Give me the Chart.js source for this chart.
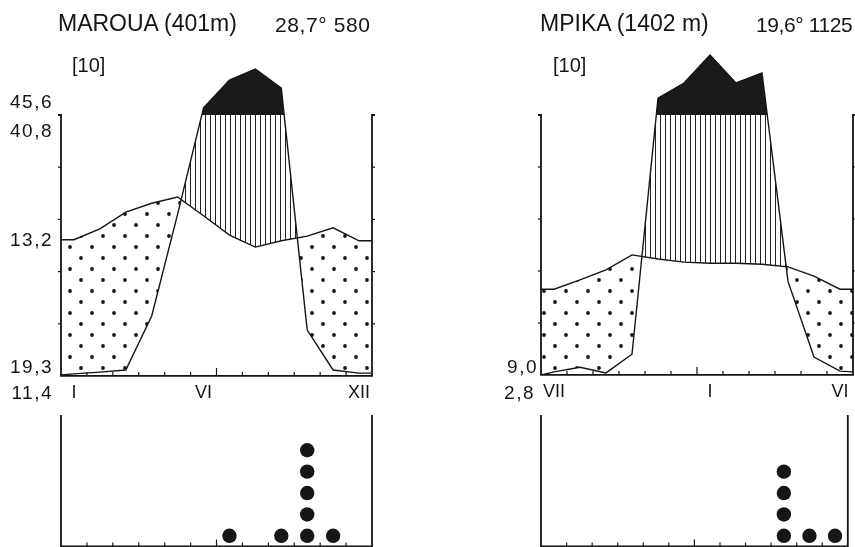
<!DOCTYPE html>
<html>
<head>
<meta charset="utf-8">
<title>Klimaatdiagrammen Maroua / Mpika</title>
<script src="https://cdn.jsdelivr.net/npm/chart.js@4.4.1/dist/chart.umd.min.js"></script>
<style>
    html, body { margin: 0; padding: 0; background: #fff; }
    body { position: relative; width: 855px; height: 547px; overflow: hidden; font-family: 'Liberation Sans', Arial, sans-serif; color: #151515; }
    canvas { position: absolute; }
    .lbl { position: absolute; line-height: 1; white-space: nowrap; }
    .station { font-size: 23px; top: 12px; }
    .meta { font-size: 21px; top: 14px; }
    .years { font-size: 20px; top: 55px; }
    .val { font-size: 19px; letter-spacing: 1.5px; text-align: right; }
</style>
</head>
<body>
<canvas id="marouaDotChart" width="430" height="160" style="left:0;top:400px"></canvas>
<canvas id="mpikaDotChart" width="425" height="160" style="left:430px;top:400px"></canvas>
<canvas id="marouaChart" width="430" height="412" style="left:0;top:0"></canvas>
<canvas id="mpikaChart" width="425" height="412" style="left:430px;top:0"></canvas>

<div class="lbl station" style="left:58px">MAROUA (401m)</div>
<div class="lbl meta" style="left:275px;letter-spacing:0.6px">28,7° 580</div>
<div class="lbl years" style="left:72px">[10]</div>
<div class="lbl val" style="right:802px;top:92px">45,6</div>
<div class="lbl val" style="right:802px;top:121px">40,8</div>
<div class="lbl val" style="right:802px;top:230px">13,2</div>
<div class="lbl val" style="right:802px;top:357px">19,3</div>
<div class="lbl val" style="right:802px;top:383px">11,4</div>

<div class="lbl station" style="left:540px">MPIKA (1402 m)</div>
<div class="lbl meta" style="left:756px;letter-spacing:-0.4px">19,6° 1125</div>
<div class="lbl years" style="left:553px">[10]</div>
<div class="lbl val" style="right:317px;top:357px">9,0</div>
<div class="lbl val" style="right:320px;top:383px">2,8</div>

<script>
// Month positions: left edge, the middle of every month, right edge
const monthPos = [0, 0.5, 1.5, 2.5, 3.5, 4.5, 5.5, 6.5, 7.5, 8.5, 9.5, 10.5, 11.5, 12];

// Maroua (Jan..Dec), first and last value = where the curve meets the frame
const marouaTemp = [26.1, 26.1, 28.2, 31.4, 33.1, 34.3, 30.7, 27.0, 24.7, 25.9, 26.8, 28.4, 25.9, 25.9];
const marouaRain = [0.4, 0.8, 1.5, 2.3, 23, 62, 127, 234, 276, 203, 17.6, 2.3, 1.1, 1.1];
const marouaDots = [0, 0, 0, 0, 0, 0, 1, 0, 1, 5, 1, 0];
const marouaTickPos = [0.5, 5.5, 11.5];
const marouaTickLabels = ['I', 'VI', 'XII'];

// Mpika (Jul..Jun)
const mpikaTemp = [16.5, 16.5, 18.3, 20.2, 23.1, 22.3, 21.7, 21.5, 21.5, 21.3, 20.8, 19.0, 16.5, 16.5];
const mpikaRain = [0, 1.2, 3, 0.8, 8, 165, 223, 331, 223, 262, 36, 6.9, 1.5, 1.2];
const mpikaDots = [0, 0, 0, 0, 0, 0, 0, 0, 0, 4, 1, 1];
const mpikaTickPos = [0.5, 6.5, 11.5];
const mpikaTickLabels = ['VII', 'I', 'VI'];

const INK = '#151515';

// Walter-Lieth scale: 10 °C = 20 mm, above 100 mm reduced 1:10
const tempToY = t => t * 2;
const rainToY = p => (p > 100 ? 100 + (p - 100) / 10 : p);

function makeDots() {
    const c = document.createElement('canvas');
    c.width = 22; c.height = 22;
    const g = c.getContext('2d');
    g.fillStyle = INK;
    [[4, 5], [15, 16]].forEach(([px, py]) => {
        g.beginPath();
        g.arc(px, py, 1.9, 0, Math.PI * 2);
        g.fill();
    });
    return g.createPattern(c, 'repeat');
}

function makeHatch() {
    const c = document.createElement('canvas');
    c.width = 5; c.height = 4;
    const g = c.getContext('2d');
    g.fillStyle = '#222';
    g.fillRect(0, 0, 1, 4);
    return g.createPattern(c, 'repeat');
}

const dots = makeDots();
const hatch = makeHatch();

// Frame of the diagram: sides up to 100, side ticks, month ticks
const frame = {
    id: 'frame',
    afterDatasetsDraw(chart) {
        const { ctx, chartArea: a, scales: { x, y } } = chart;
        const yTop = y.getPixelForValue(100);
        const yBot = y.getPixelForValue(0);
        ctx.save();
        ctx.strokeStyle = INK;
        [[a.left, -1], [a.right, 1]].forEach(([px, dir]) => {
            ctx.lineWidth = 1.8;
            ctx.beginPath();
            ctx.moveTo(px + dir * 3, yTop);
            ctx.lineTo(px, yTop);
            ctx.lineTo(px, yBot);
            ctx.stroke();
            ctx.lineWidth = 1.2;
            [20, 40, 60, 80].forEach(v => {
                const py = y.getPixelForValue(v);
                ctx.beginPath();
                ctx.moveTo(px, py);
                ctx.lineTo(px + dir * 3, py);
                ctx.stroke();
            });
        });
        ctx.lineWidth = 1.2;
        for (let m = 1; m < 12; m++) {
            const px = x.getPixelForValue(m);
            ctx.beginPath();
            ctx.moveTo(px, yBot);
            ctx.lineTo(px, yBot - (m === 6 ? 8 : 4));
            ctx.stroke();
        }
        ctx.restore();
    }
};

const dotFrame = {
    id: 'dotFrame',
    beforeDatasetsDraw(chart) {
        const { ctx, chartArea: a, scales: { x, y } } = chart;
        const yBot = y.getPixelForValue(0);
        ctx.save();
        ctx.strokeStyle = INK;
        ctx.lineWidth = 1.8;
        ctx.beginPath();
        ctx.moveTo(a.left, a.top);
        ctx.lineTo(a.left, yBot);
        ctx.lineTo(a.right, yBot);
        ctx.lineTo(a.right, a.top);
        ctx.stroke();
        ctx.lineWidth = 1.2;
        for (let m = 1; m < 12; m++) {
            const px = x.getPixelForValue(m);
            ctx.beginPath();
            ctx.moveTo(px, yBot);
            ctx.lineTo(px, yBot - (m === 6 ? 7 : 4));
            ctx.stroke();
        }
        ctx.restore();
    }
};

function climateChart(id, temp, rain, tickPos, tickLabels, pad) {
    const tempPts = monthPos.map((m, i) => ({ x: m, y: tempToY(temp[i]) }));
    const rainPts = () => monthPos.map((m, i) => ({ x: m, y: rainToY(rain[i]) }));

    return new Chart(document.getElementById(id), {
        type: 'line',
        data: {
            datasets: [
                {
                    // precipitation curve, black above 100 mm
                    data: rainPts(),
                    borderColor: INK,
                    borderWidth: 1.4,
                    pointRadius: 0,
                    order: 1,
                    fill: { target: { value: 100 }, above: '#1a1a1a', below: 'rgba(0,0,0,0)' }
                },
                {
                    // humid (hatched) and arid (dotted) areas against temperature
                    data: rainPts(),
                    borderColor: 'rgba(0,0,0,0)',
                    borderWidth: 0,
                    pointRadius: 0,
                    order: 2,
                    fill: { target: 2, above: hatch, below: dots }
                },
                {
                    data: tempPts,
                    borderColor: INK,
                    borderWidth: 1.4,
                    pointRadius: 0,
                    order: 0,
                    fill: false
                }
            ]
        },
        options: {
            responsive: false,
            animation: false,
            events: [],
            layout: { padding: pad },
            plugins: { legend: { display: false }, tooltip: { enabled: false } },
            scales: {
                x: {
                    type: 'linear',
                    min: 0,
                    max: 12,
                    z: 1,
                    grid: { display: false },
                    border: { display: true, color: INK, width: 1.8 },
                    afterBuildTicks: scale => { scale.ticks = tickPos.map(v => ({ value: v })); },
                    afterFit: scale => { scale.height = 36; },
                    ticks: {
                        autoSkip: false,
                        maxRotation: 0,
                        padding: -2,
                        color: INK,
                        font: { family: 'Liberation Sans', size: 18 },
                        callback: (v, i) => tickLabels[i]
                    }
                },
                y: { display: false, min: 0, max: 128 }
            }
        },
        plugins: [frame]
    });
}

function dotChart(id, counts, pad) {
    const pts = [];
    counts.forEach((n, i) => {
        for (let k = 0; k < n; k++) pts.push({ x: i + 0.5, y: k + 0.5 });
    });

    return new Chart(document.getElementById(id), {
        type: 'scatter',
        data: {
            datasets: [{
                data: pts,
                pointRadius: 7.2,
                pointBackgroundColor: '#161616',
                pointBorderWidth: 0,
                clip: false
            }]
        },
        options: {
            responsive: false,
            animation: false,
            events: [],
            layout: { padding: pad },
            plugins: { legend: { display: false }, tooltip: { enabled: false } },
            scales: {
                x: { display: false, min: 0, max: 12 },
                y: { display: false, min: 0, max: 6.15 }
            }
        },
        plugins: [dotFrame]
    });
}

// chart area bottoms 376 / 375, value 100 lands on y = 115
climateChart('marouaChart', marouaTemp, marouaRain, marouaTickPos, marouaTickLabels,
    { left: 61, right: 58, top: 41.92, bottom: 0 });
climateChart('mpikaChart', mpikaTemp, mpikaRain, mpikaTickPos, mpikaTickLabels,
    { left: 111, right: 2, top: 42.2, bottom: 1 });
dotChart('marouaDotChart', marouaDots, { left: 61, right: 58, top: 15, bottom: 13.5 });
dotChart('mpikaDotChart', mpikaDots, { left: 111, right: 2, top: 15, bottom: 13.5 });
</script>
</body>
</html>
